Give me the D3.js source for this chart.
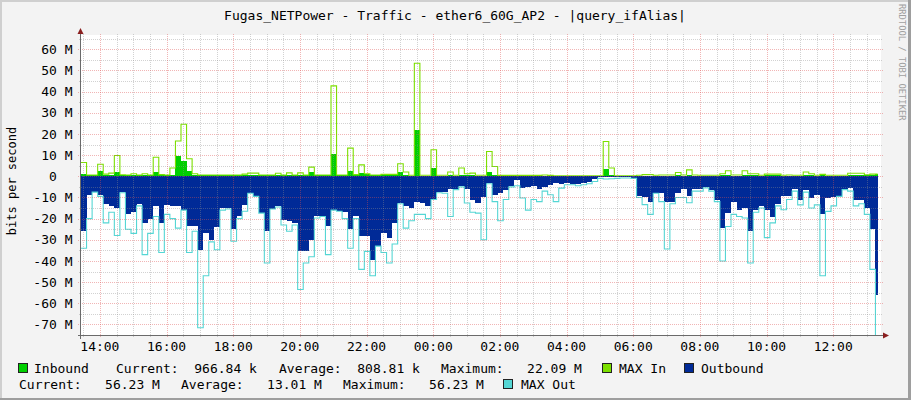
<!DOCTYPE html>
<html><head><meta charset="utf-8">
<script src="https://cdn.jsdelivr.net/npm/d3@7"></script>
<style>
html,body{margin:0;padding:0;background:#f3f3f3;}
svg{display:block;}
text{font-family:"DejaVu Sans Mono",monospace;fill:#000;}
</style></head><body>
<svg id="chart" width="911" height="400"></svg>
<script>
const titleText = "Fugas_NETPower - Traffic - ether6_60G_AP2 - |query_ifAlias|";
const yAxisTitle = "bits per second";
const watermark = "RRDTOOL / TOBI OETIKER";
// y tick values in M
const yMajorTicks = [60,50,40,30,20,10,0,-10,-20,-30,-40,-50,-60,-70];
const yMinorTicks = [65,55,45,35,25,15,5,-5,-15,-25,-35,-45,-55,-65];
// 10-minute samples, values in Mbit/s, starting 13:26
const inbound = [1.2,0.4,0.4,2.6,0.6,0.7,2,0.4,0.4,0.5,
 0.4,0.5,0.4,2,0.6,0.4,0.8,9.8,7,2.3,
 0.4,0.4,0.4,0.4,0.4,0.4,0.4,0.4,0.4,0.5,
 0.5,0.5,0.4,0.4,0.4,0.5,0.4,0.5,0.4,0.5,
 0.4,2,0.4,0.4,0.4,10.5,0.4,0.4,2.5,0.5,
 1.5,1,0.5,0.5,0.4,0.4,0.5,1.8,0.5,0.3,
 22.09,0.3,0.3,3.9,0.3,0.3,0.4,0.3,0.5,0.4,
 0.4,0.3,0.3,2,0.5,0.3,0.3,0.3,0.3,0.3,
 0.2,0.2,0.2,0.2,0.2,0.1,0.1,0.1,0.1,0.1,
 0.1,0.1,0.1,0.1,3.4,0.8,0.1,0.1,0.1,0.1,
 0.2,0.3,0.3,0.3,0.3,0.3,0.3,0.5,0.3,0.8,
 0.3,0.3,0.3,0.3,0.3,0.5,0.6,0.3,0.3,0.6,
 0.5,0.5,0.3,0.4,0.4,0.4,0.3,0.3,0.3,0.3,
 0.6,0.4,0.3,0.4,0.3,0.3,0.3,0.3,0.5,0.5,
 0.4,0.4,0.8,0.97];
const maxIn = [6.5,0.6,0.6,5.7,1,1.5,9.8,0.7,0.6,1.2,
 0.6,1.2,0.6,9,0.8,0.6,3.9,16.7,24.6,8.3,
 1.2,0.6,0.6,0.6,0.6,0.6,0.6,0.6,0.6,1,
 1.5,1.5,0.6,0.6,0.6,1.4,0.6,1.6,0.6,1.6,
 0.6,4.3,0.6,0.6,0.6,42.7,0.6,0.6,13.3,0.8,
 5.4,1.2,0.6,0.6,0.9,0.9,0.9,5.9,2,0.5,
 53.4,0.5,0.5,12.5,0.5,0.5,2,0.5,3.9,1.2,
 1.5,0.5,0.5,11.7,4.6,0.4,0.4,0.4,0.4,0.4,
 0.4,0.4,0.4,0.6,0.4,0.2,0.2,0.2,0.2,0.2,
 0.2,0.2,0.2,0.2,16.4,3.9,0.2,0.2,0.2,0.2,
 0.5,0.8,0.8,0.5,0.6,0.6,0.6,1.8,0.6,3,
 0.6,0.5,0.5,0.5,0.5,1.2,2.6,0.6,0.6,2.6,
 1.2,1.2,0.5,1,1,1,0.5,0.6,0.5,0.5,
 2,1.2,0.5,0.9,0.5,0.5,0.5,0.5,1.4,1.4,
 1.4,0.7,1,1];
const outbound = [26,9,7.5,9,13,14,15,7.5,18,17,
 13,22,20,14,22,13.5,14,14,16,23.5,
 23.5,34.7,27,30,24,15,15,25,19,13.5,
 8,9.5,17.4,26,15.5,14,20.5,21,22,35.5,
 35.5,30,19,19,23.6,16,16.5,17,25,19,
 28.4,28,39.4,33,27,29,22,12.5,14,15,
 12,12.6,14,11,7.5,7.5,6,6,4.5,6,
 11,12.6,10,3.2,8.7,8,6.3,4.5,1.8,5.6,
 5,4.8,6,5,4,3.2,3.5,3.2,3.5,3.5,
 3.2,2.6,1.5,0.5,0.2,0.3,0.5,0.5,0.5,0.8,
 9.5,10,12,8,8,12,12,8,6,9.5,
 6,6,5,6.3,11,24.5,17.4,12,15.8,15,
 26,16,14,16,19.3,13,9.5,9.5,6,11,
 6.5,10.5,9,18,10.5,10,9.5,6.3,5.6,11,
 11,15,25,56.23];
const maxOut = [34,20,7.5,9.5,22,17,28,7.8,25,27,
 14,37,27,19,36,18,20,24.5,16,36,
 26,71.6,47,31,34.7,16,15.5,30.7,20,16.5,
 8,9.5,17.4,41,15.5,14.5,23,26,23,53.5,
 41,38,19.7,19,37,16,16.5,20,34,20,
 44,35.5,47,33,36,41,32,13,24.5,21,
 18,18,20,11,7.8,8,19,6.3,5,12.6,
 17,17.4,30,3.5,12,21,11,5,4.5,10.3,
 16,11,12,7,8.7,12,5.6,4,4,4.5,
 4,3.5,2.5,1,1.3,1.2,1,0.8,0.8,1,
 10,13.4,18,8,12,34.4,13,10,10,12.5,
 7,7,5.5,7,12,40,23.7,18,19,19.7,
 41,17,15,29,22,14,15.8,11,7,13.5,
 7.5,15,13.5,47,16.6,14,9.5,6.3,7,14,
 13,18,44,90];
const legendRow1 = [
  {type:"box", color:"#00CF00", x:18},
  {type:"text", text:"Inbound", x:34},
  {type:"text", text:"Current:  966.84 k", x:116},
  {type:"text", text:"Average:  808.81 k", x:279},
  {type:"text", text:"Maximum:   22.09 M", x:441},
  {type:"box", color:"#7CE000", x:602},
  {type:"text", text:"MAX In", x:619},
  {type:"box", color:"#002A97", x:684},
  {type:"text", text:"Outbound", x:701}
];
const legendRow2 = [
  {type:"text", text:"Current:   56.23 M", x:19},
  {type:"text", text:"Average:   13.01 M", x:181},
  {type:"text", text:"Maximum:   56.23 M", x:343},
  {type:"box", color:"#55D6D4", x:503},
  {type:"text", text:"MAX Out", x:521}
];

const colors = {inbound:"#00CF00", maxIn:"#7CE000", outbound:"#002A97", maxOut:"#55D6D4"};
const P = {left:81, right:881, top:35, bottom:335};

const svg = d3.select("#chart");
svg.append("rect").attr("width",911).attr("height",400).attr("fill","#f3f3f3");
svg.append("rect").attr("x",0).attr("y",0).attr("width",911).attr("height",2).attr("fill","#cfcfcf");
svg.append("rect").attr("x",0).attr("y",0).attr("width",2).attr("height",400).attr("fill","#cfcfcf");
svg.append("rect").attr("x",0).attr("y",398).attr("width",911).attr("height",2).attr("fill","#9e9e9e");
svg.append("rect").attr("x",908).attr("y",0).attr("width",3).attr("height",400).attr("fill","#9e9e9e");

svg.append("rect").attr("x",P.left).attr("y",P.top).attr("width",P.right-P.left).attr("height",P.bottom-P.top).attr("fill","#fff");

const t0 = new Date(2024,0,1,13,26,0);
const t1 = new Date(+t0 + 24*3600*1000);
const x = d3.scaleTime().domain([t0,t1]).range([P.left,P.right]);
const y = d3.scaleLinear().domain([-75,66.75]).range([P.bottom,P.top]);

const stepMs = 10*60*1000;
const tEnd = new Date(+t0 + 1434*60000);
function pts(arr){
  const p = arr.map((v,i)=>({t:new Date(+t0+i*stepMs), v:v}));
  p.push({t:tEnd, v:arr[arr.length-1]});
  return p;
}
const areaGen = s => d3.area().curve(d3.curveStepAfter).x(d=>x(d.t)).y0(y(0)).y1(d=>y(s*d.v));
const lineGen = s => d3.line().curve(d3.curveStepAfter).x(d=>x(d.t)).y(d=>y(s*d.v));

svg.append("clipPath").attr("id","clip").append("rect")
  .attr("x",P.left).attr("y",P.top).attr("width",P.right-P.left).attr("height",P.bottom-P.top);
const g = svg.append("g").attr("clip-path","url(#clip)");
g.append("path").datum(pts(inbound)).attr("d",areaGen(1)).attr("fill",colors.inbound).attr("shape-rendering","crispEdges");
g.append("path").datum(pts(maxIn)).attr("d",lineGen(1)).attr("fill","none").attr("stroke",colors.maxIn).attr("stroke-width",1.1);
g.append("path").datum(pts(outbound)).attr("d",areaGen(-1)).attr("fill",colors.outbound).attr("shape-rendering","crispEdges");
g.append("path").datum(pts(maxOut)).attr("d",lineGen(-1)).attr("fill","none").attr("stroke",colors.maxOut).attr("stroke-width",1.1);

// grid (drawn on top, as rrdtool does)
const grid = svg.append("g").attr("shape-rendering","crispEdges");
const minorCol = "rgba(143,143,143,0.4)", majorCol = "rgba(222,79,79,0.42)";
const px = v => Math.round(v)+0.5;
x.ticks(d3.timeMinute.every(30)).filter(d=>d.getMinutes()!==0 || d.getHours()%2!==0).forEach(d=>{
  grid.append("line").attr("x1",px(x(d))).attr("x2",px(x(d))).attr("y1",P.top-1).attr("y2",P.bottom+2)
    .attr("stroke",minorCol).attr("stroke-dasharray","1,1");
});
yMinorTicks.forEach(v=>{
  grid.append("line").attr("y1",px(y(v))).attr("y2",px(y(v))).attr("x1",P.left-2).attr("x2",P.right+1)
    .attr("stroke",minorCol).attr("stroke-dasharray","1,1");
});
const majorX = x.ticks(d3.timeHour.every(2));
majorX.forEach(d=>{
  grid.append("line").attr("x1",px(x(d))).attr("x2",px(x(d))).attr("y1",P.top-1).attr("y2",P.bottom+3)
    .attr("stroke",majorCol).attr("stroke-dasharray","1,1");
});
yMajorTicks.forEach(v=>{
  grid.append("line").attr("y1",px(y(v))).attr("y2",px(y(v))).attr("x1",P.left-3).attr("x2",P.right+2)
    .attr("stroke",majorCol).attr("stroke-dasharray","1,1");
});

// axes
const axisCol = "#6a6a6a";
svg.append("line").attr("x1",P.left-3).attr("x2",P.right+3).attr("y1",P.bottom+0.5).attr("y2",P.bottom+0.5)
  .attr("stroke",axisCol).attr("shape-rendering","crispEdges");
svg.append("line").attr("x1",P.left-0.5).attr("x2",P.left-0.5).attr("y1",P.bottom+4).attr("y2",P.top-2)
  .attr("stroke",axisCol).attr("shape-rendering","crispEdges");
svg.append("path").attr("d",`M${P.left-3.5},${P.top-1} L${P.left+2.5},${P.top-1} L${P.left-0.5},${P.top-7} Z`).attr("fill","#8a1f1f");
svg.append("path").attr("d",`M${P.right+2},${P.bottom-2.5} L${P.right+2},${P.bottom+3.5} L${P.right+8},${P.bottom+0.5} Z`).attr("fill","#8a1f1f");

// y labels
yMajorTicks.forEach(v=>{
  const lbl = v===0 ? "0" : (v + " M");
  svg.append("text").attr("x", v===0 ? 72.5-2*7.83 : 72.5).attr("y", y(v)+4.7)
    .attr("text-anchor","end").attr("font-size","13px").text(lbl);
});
// x labels
const fmt = d3.timeFormat("%H:%M");
majorX.forEach(d=>{
  svg.append("text").attr("x",x(d)).attr("y",351).attr("text-anchor","middle").attr("font-size","13px").text(fmt(d));
});

// title
svg.append("text").attr("x",455).attr("y",20).attr("text-anchor","middle").attr("font-size","13px").text(titleText);
// y axis title
svg.append("text").attr("transform","translate(15.5,181) rotate(-90)").attr("text-anchor","middle")
  .attr("font-size","12px").text(yAxisTitle);
// watermark
svg.append("text").attr("transform","translate(899,4) rotate(90)").attr("text-anchor","start")
  .attr("font-size","8.8px").style("fill","#a0a0a0").text(watermark);

// legend
function legendRow(items, baseline){
  items.forEach(it=>{
    if(it.type==="box"){
      svg.append("rect").attr("x",it.x+0.5).attr("y",baseline-9.5).attr("width",9).attr("height",9)
        .attr("fill",it.color).attr("stroke","#222").attr("stroke-width",1);
    } else {
      svg.append("text").attr("x",it.x).attr("y",baseline).attr("font-size","13px")
        .attr("xml:space","preserve").style("white-space","pre").text(it.text);
    }
  });
}
legendRow(legendRow1, 373);
legendRow(legendRow2, 389);
</script>
</body></html>
